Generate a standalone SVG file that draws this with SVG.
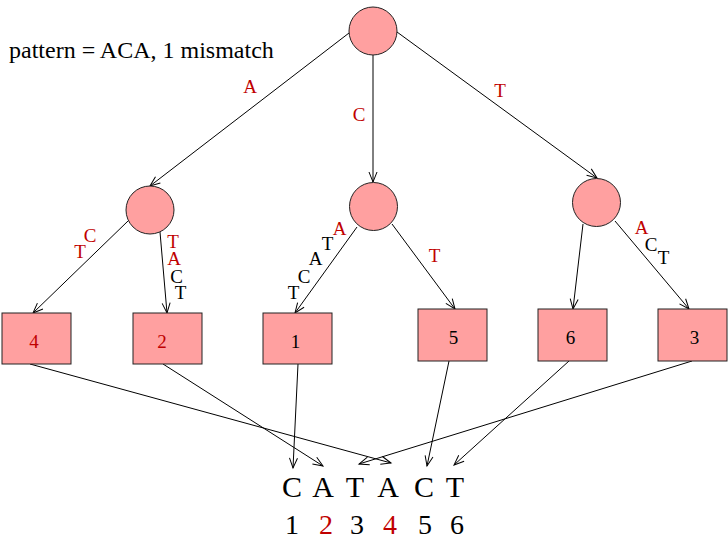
<svg xmlns="http://www.w3.org/2000/svg" width="728" height="539" viewBox="0 0 728 539">
<style>
  text { font-family: "Liberation Serif", "Times New Roman", serif; }
  .node { fill: #ffa0a0; stroke: #222; stroke-width: 1; }
  .edge { fill: none; stroke: #000; stroke-width: 1; marker-end: url(#arr); }
  .lbl { font-size: 19px; text-anchor: middle; }
  .red { fill: #c00000; }
  .blk { fill: #000; }
  .num { font-size: 19px; text-anchor: middle; }
  .seq { font-size: 30px; text-anchor: middle; fill: #000; }
  .idx { font-size: 28px; text-anchor: middle; }
</style>
<defs>
  <marker id="arr" markerUnits="userSpaceOnUse" markerWidth="14" markerHeight="12" viewBox="-12 -6 14 12" refX="0" refY="0" orient="auto">
    <path d="M-10,-4 L0,0 L-10,4" fill="none" stroke="#000" stroke-width="1"/>
  </marker>
</defs>
<rect width="728" height="539" fill="#fff"/>

<text x="9" y="58" font-size="24" fill="#000">pattern = ACA, 1 mismatch</text>

<g id="connectors">
  <line class="edge" x1="349" y1="33" x2="150" y2="186"/>
  <line class="edge" x1="373" y1="55" x2="373" y2="182"/>
  <line class="edge" x1="397" y1="32" x2="597" y2="178"/>
  <line class="edge" x1="128" y1="221" x2="33" y2="313"/>
  <line class="edge" x1="160" y1="232" x2="167" y2="313"/>
  <line class="edge" x1="357" y1="227" x2="295" y2="313"/>
  <line class="edge" x1="392" y1="224" x2="455" y2="309"/>
  <line class="edge" x1="583" y1="224" x2="573" y2="309"/>
  <line class="edge" x1="615" y1="221" x2="689" y2="309"/>
  <line class="edge" x1="30" y1="364" x2="391" y2="463"/>
  <line class="edge" x1="163" y1="364" x2="323" y2="466"/>
  <line class="edge" x1="298" y1="364" x2="293" y2="468"/>
  <line class="edge" x1="449" y1="361" x2="427" y2="466"/>
  <line class="edge" x1="569" y1="361" x2="454" y2="465"/>
  <line class="edge" x1="692" y1="361" x2="359" y2="464"/>
  <g id="edge-labels">
    <text class="lbl red" x="250" y="93">A</text>
    <text class="lbl red" x="359" y="121">C</text>
    <text class="lbl red" x="500" y="97">T</text>
    <text class="lbl red" x="90" y="242">C</text>
    <text class="lbl red" x="80" y="258">T</text>
    <text class="lbl red" x="173" y="248">T</text>
    <text class="lbl red" x="174" y="265">A</text>
    <text class="lbl blk" x="176.5" y="283">C</text>
    <text class="lbl blk" x="180.5" y="299">T</text>
    <text class="lbl red" x="339.5" y="235">A</text>
    <text class="lbl blk" x="327.5" y="250">T</text>
    <text class="lbl blk" x="315.5" y="265">A</text>
    <text class="lbl blk" x="304" y="283">C</text>
    <text class="lbl blk" x="293.5" y="299">T</text>
    <text class="lbl red" x="434.5" y="262">T</text>
    <text class="lbl red" x="641.5" y="234">A</text>
    <text class="lbl blk" x="651" y="251">C</text>
    <text class="lbl blk" x="663.5" y="264">T</text>
  </g>
</g>

<g id="root"><circle class="node" cx="373" cy="31" r="24"/></g>
<g id="mid-left"><circle class="node" cx="150" cy="210" r="24"/></g>
<g id="mid-center"><circle class="node" cx="373.5" cy="206.5" r="24"/></g>
<g id="mid-right"><circle class="node" cx="596.5" cy="202.5" r="24"/></g>

<g id="leaf-4"><rect class="node" x="2" y="313" width="69" height="51"/><text class="num red" x="34" y="348">4</text></g>
<g id="leaf-2"><rect class="node" x="133" y="313" width="69" height="51"/><text class="num red" x="162" y="348">2</text></g>
<g id="leaf-1"><rect class="node" x="263" y="313" width="69" height="51"/><text class="num blk" x="295.5" y="348">1</text></g>
<g id="leaf-5"><rect class="node" x="418" y="309" width="69" height="52"/><text class="num blk" x="453.5" y="344">5</text></g>
<g id="leaf-6"><rect class="node" x="538" y="309" width="69" height="52"/><text class="num blk" x="570.5" y="344">6</text></g>
<g id="leaf-3"><rect class="node" x="658" y="309" width="69" height="52"/><text class="num blk" x="694.5" y="344">3</text></g>

<g id="sequence">
  <text class="seq" x="292" y="497">C</text>
  <text class="seq" x="323" y="497">A</text>
  <text class="seq" x="355" y="497">T</text>
  <text class="seq" x="388" y="497">A</text>
  <text class="seq" x="424" y="497">C</text>
  <text class="seq" x="455" y="497">T</text>
  <text class="idx blk" x="292" y="534">1</text>
  <text class="idx red" x="326" y="534">2</text>
  <text class="idx blk" x="357" y="534">3</text>
  <text class="idx red" x="390" y="534">4</text>
  <text class="idx blk" x="425" y="534">5</text>
  <text class="idx blk" x="457" y="534">6</text>
</g>
</svg>
